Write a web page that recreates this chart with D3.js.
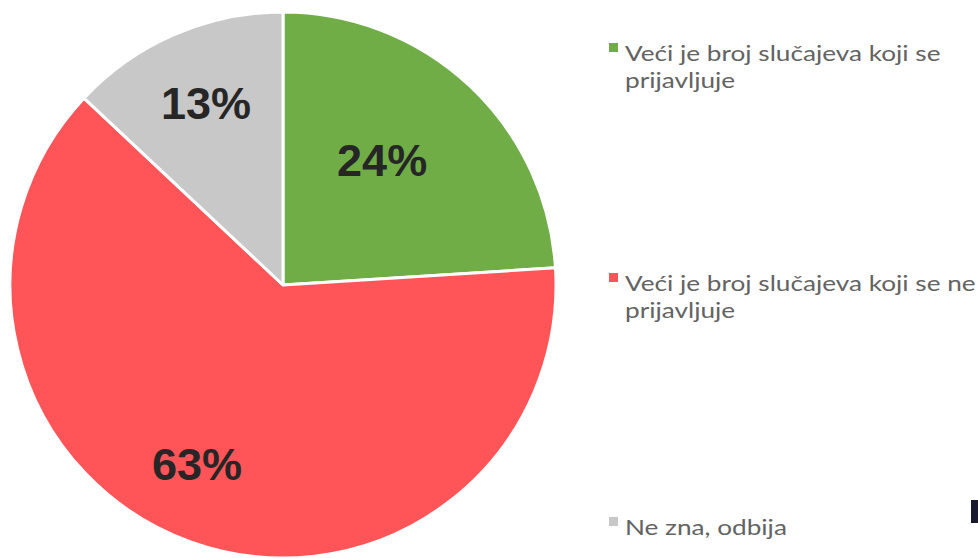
<!DOCTYPE html>
<html>
<head>
<meta charset="utf-8">
<script src="https://cdn.jsdelivr.net/npm/d3@7"></script>
<style>
  body { margin: 0; background: #fff; }
</style>
</head>
<body>
<svg id="chart" width="978" height="558"></svg>
<script>
var categories = ["Veći je broj slučajeva koji se prijavljuje",
    "Veći je broj slučajeva koji se ne prijavljuje",
    "Ne zna, odbija"];
var values = [24, 63, 13];
var labels = ["24%", "63%", "13%"];
var legendLines = [["Veći je broj slučajeva koji se", "prijavljuje"],
    ["Veći je broj slučajeva koji se ne", "prijavljuje"],
    ["Ne zna, odbija"]];
var colors = ["#70AD47", "#FF5558", "#C8C8C8"];

var svg = d3.select("#chart");
var cx = 283, cy = 285, radius = 273;

var pie = d3.pie().sort(null).value(function (d) { return d; });
var arc = d3.arc().innerRadius(0).outerRadius(radius);

var g = svg.append("g").attr("transform", "translate(" + cx + "," + cy + ")");

var arcs = pie(values);

g.selectAll("path")
    .data(arcs)
    .enter()
    .append("path")
    .attr("d", arc)
    .attr("fill", function (d, i) { return colors[i]; })
    .attr("stroke", "#fff")
    .attr("stroke-width", 3)
    .attr("stroke-linejoin", "round");

// label placement: fraction of radius, and where along the slice
var labelRadius = [0.585, 0.727, 0.724];
var labelAlong = [0.444, 0.526, 0.51];
g.selectAll("text.pct")
    .data(arcs)
    .enter()
    .append("text")
    .attr("class", "pct")
    .attr("transform", function (d, i) {
        var a = d.startAngle + (d.endAngle - d.startAngle) * labelAlong[i];
        var r = radius * labelRadius[i];
        return "translate(" + (Math.sin(a) * r) + "," + (-Math.cos(a) * r) + ")";
    })
    .attr("text-anchor", "middle")
    .attr("dy", "0.36em")
    .style("font-family", "Liberation Sans, Arial, sans-serif")
    .style("font-weight", "bold")
    .style("font-size", "45px")
    .style("fill", "#262626")
    .text(function (d, i) { return labels[i]; });

// Legend
var legendY = [61, 291, 535];
var legend = svg.selectAll("g.legend")
    .data(categories)
    .enter()
    .append("g")
    .attr("class", "legend")
    .attr("transform", function (d, i) { return "translate(609," + legendY[i] + ")"; });

legend.append("rect")
    .attr("x", 0)
    .attr("y", -18)
    .attr("width", 9)
    .attr("height", 9)
    .attr("fill", function (d, i) { return colors[i]; });

// the source font is wide, so stretch Lato a little
legend.each(function (d, i) {
    var t = d3.select(this).append("g")
        .attr("transform", "translate(16,0) scale(1.19,1)")
        .append("text")
        .style("font-family", "Lato, Open Sans, sans-serif")
        .style("font-size", "22px")
        .style("fill", "#636363");
    legendLines[i].forEach(function (line, j) {
        t.append("tspan")
            .attr("x", 0)
            .attr("dy", j === 0 ? 0 : 27)
            .text(line);
    });
});

// fragment of a dark letter cut by the right edge
svg.append("rect")
    .attr("x", 971)
    .attr("y", 500)
    .attr("width", 7)
    .attr("height", 23)
    .attr("fill", "#1a1a2e");
</script>
</body>
</html>
